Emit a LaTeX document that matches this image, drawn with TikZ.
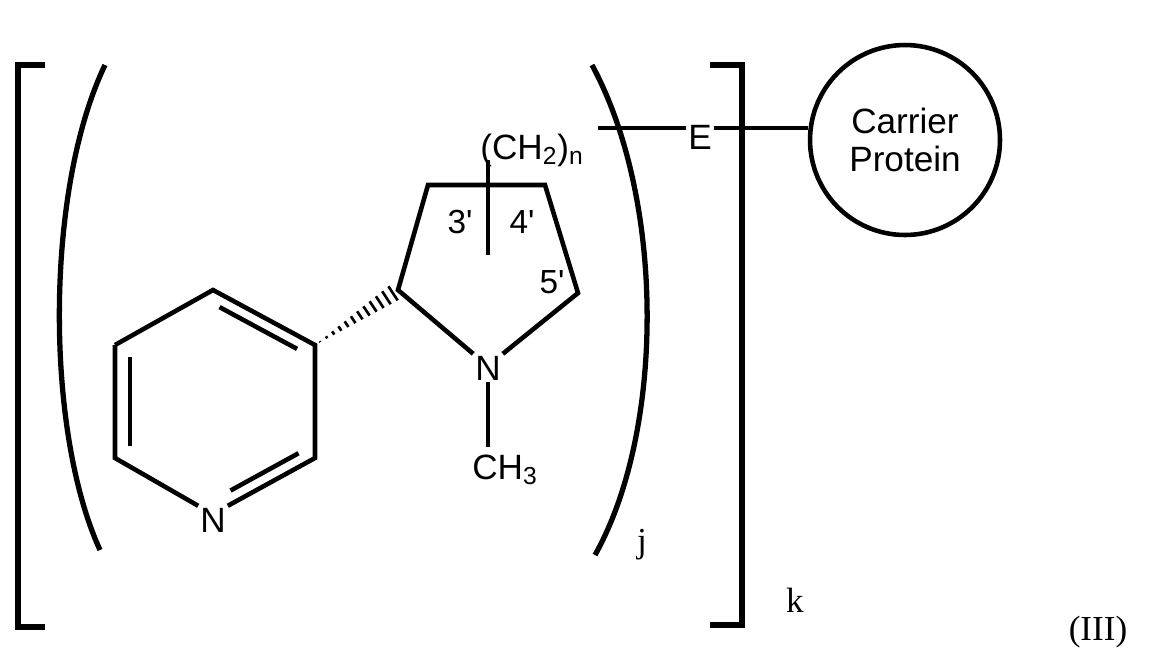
\documentclass[tikz,border=0pt]{standalone}
\usepackage{fontspec}
\setmainfont{Liberation Sans}
\newfontfamily\serf{Liberation Serif}
\usetikzlibrary{calc}
\newcommand{\pr}{\textquotesingle}
\begin{document}
\begin{tikzpicture}[x=0.02cm,y=-0.02cm,
  bd/.style={line width=2.6pt},
  br/.style={line width=3.6pt},
  lab/.style={font=\fontsize{19}{19}\selectfont,inner sep=1pt},
  slab/.style={font=\serf\fontsize{20}{20}\selectfont,inner sep=1pt}]
\useasboundingbox (0,0) rectangle (1165,657);
% brackets
\draw[br] (45,65) -- (18,65) -- (18,627) -- (45,627);
\draw[br] (710,65) -- (742,65) -- (742,625) -- (710,625);
% parentheses
\draw[line width=3pt] (105,65) .. controls (45,190) and (45,430) .. (100,550);
\draw[line width=3pt] (592,65) .. controls (665,200) and (665,430) .. (595,555);
\node[slab] (j) at (642,545) {j};
\node[slab] (k) at (795,600) {k};
\node[slab] (III) at (1098,632) {(III)};
% carrier protein
\node[draw,circle,line width=2.6pt,inner sep=0pt,
  minimum size=3.8cm,align=center,font=\fontsize{20}{22}\selectfont] (cp) at (905,140) {Carrier\\Protein};
% CH2 and E
\node[lab,font=\fontsize{20}{20}\selectfont] (ch2) at (532,150) {(CH\textsubscript{2})\textsubscript{n}};
\node[lab,font=\fontsize{20}{20}\selectfont] (E) at (700,137) {E};
\coordinate (l1) at (598,128);
\draw[bd] (l1) -- (E.west |- l1);
\draw[bd] (E.east |- l1) -- (cp.west |- l1);
% pyrrolidine
\coordinate (c2) at (398,290);
\coordinate (c3) at (428,185);
\coordinate (c4) at (545,185);
\coordinate (c5) at (578,293);
\node[lab,font=\fontsize{20}{20}\selectfont] (N1) at (488,368) {N};
\draw[bd] (N1.north west) -- (c2) -- (c3) -- (c4) -- (c5) -- (N1.north east);
\coordinate (b1) at (488,160);
\coordinate (b2) at (488,255);
\draw[bd] (b1) -- (b2);
\node[lab] at (460,222) {3\pr};
\node[lab] at (522,222) {4\pr};
\node[lab] at (552,282) {5\pr};
\node[lab,font=\fontsize{20}{20}\selectfont] (ch3) at (505,470) {CH\textsubscript{3}};
\draw[bd] (N1.south) -- (488,447);
% pyridine
\coordinate (p1) at (213,290);
\coordinate (p2) at (315,345);
\coordinate (p3) at (315,458);
\node[lab,font=\fontsize{20}{20}\selectfont] (pN) at (213,520) {N};
\coordinate (p5) at (115,458);
\coordinate (p6) at (115,345);
\draw[bd] (p6) -- (p1) -- (p2) -- (p3) -- (pN.north east);
\draw[bd] (pN.north west) -- (p5) -- (p6);
\draw[bd] ($(p1)!0.12!(p2)+(-5.7,10.5)$) -- ($(p1)!0.88!(p2)+(-5.7,10.5)$);
\draw[bd] ($(p3)!0.12!(pN.north east)+(-6,-10.5)$) -- ($(p3)!0.9!(pN.north east)+(-6,-10.5)$);
\draw[bd] ($(p6)+(15,12)$) -- ($(p5)+(15,-12)$);
% hashed bond
\foreach \t in {0.06,0.14,...,0.95} {
  \draw[line width=1.5pt] ($(p2)!\t!(c2)+\t*9*(0.552,0.833)$) -- ($(p2)!\t!(c2)-\t*9*(0.552,0.833)$);
}
\end{tikzpicture}
\end{document}
